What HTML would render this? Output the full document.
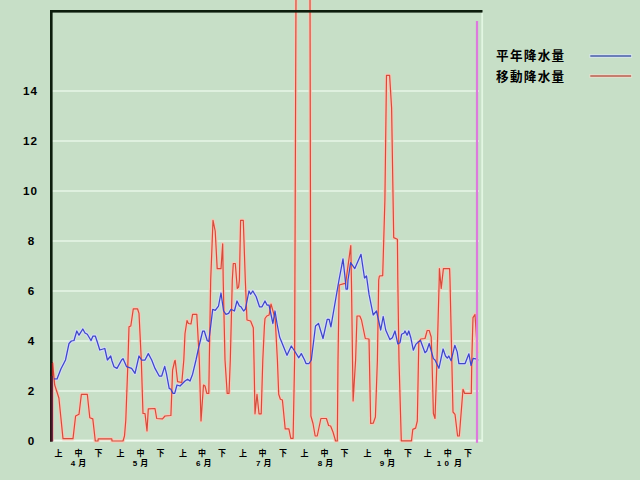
<!DOCTYPE html>
<html><head><meta charset="utf-8"><title>chart</title>
<style>
html,body{margin:0;padding:0;background:#c7dfc7;}
body{width:640px;height:480px;position:relative;overflow:hidden;font-family:"Liberation Sans",sans-serif;}
</style></head><body>
<svg width="640" height="480" viewBox="0 0 640 480" style="position:absolute;left:0;top:0;display:block">
<rect width="640" height="480" fill="#c7dfc7"/>
<rect x="52" y="390.1" width="427" height="1.8" fill="#e2f2e2"/>
<rect x="52" y="340.1" width="427" height="1.8" fill="#e2f2e2"/>
<rect x="52" y="290.1" width="427" height="1.8" fill="#e2f2e2"/>
<rect x="52" y="240.1" width="427" height="1.8" fill="#e2f2e2"/>
<rect x="52" y="190.1" width="427" height="1.8" fill="#e2f2e2"/>
<rect x="52" y="140.1" width="427" height="1.8" fill="#e2f2e2"/>
<rect x="52" y="90.1" width="427" height="1.8" fill="#e2f2e2"/>
<rect x="52" y="439.6" width="431" height="2.0" fill="#f0faf0"/>
<rect x="481.3" y="12" width="1.8" height="429.6" fill="#e2f6e2"/>
<polyline points="54.0,378.8 57.0,379.0 61.0,368.8 64.0,363.0 65.5,360.0 69.0,343.5 71.4,341.0 74.0,340.5 76.8,331.0 79.0,335.2 82.8,329.0 85.0,333.0 87.3,334.3 91.0,340.5 93.0,336.0 95.3,336.0 97.3,342.0 99.8,350.0 104.8,348.5 107.4,360.0 110.7,356.0 112.0,361.0 114.0,366.7 117.0,368.4 121.6,360.0 123.0,358.6 126.6,366.7 131.6,368.4 135.0,373.4 139.0,356.0 141.6,360.0 145.0,360.0 148.3,353.6 151.7,360.0 155.0,368.4 159.2,376.0 161.7,376.0 164.7,366.4 166.4,373.4 169.2,388.4 170.9,389.3 173.0,393.4 174.7,393.4 177.0,385.0 180.0,386.0 185.0,381.0 187.6,379.2 190.0,381.0 192.6,374.2 196.0,360.0 198.8,347.0 202.7,331.0 204.3,331.0 207.2,340.5 208.8,341.5 212.7,309.3 215.2,310.4 218.5,306.0 221.0,293.0 223.6,311.0 226.0,314.3 228.6,313.4 231.0,309.3 234.4,311.0 237.0,301.0 239.4,306.0 241.0,306.8 243.6,311.0 245.3,309.3 249.0,291.0 250.6,294.2 252.8,291.0 256.2,296.7 259.5,306.8 262.0,306.8 265.0,301.0 267.0,305.0 269.0,305.0 272.9,323.5 275.0,311.0 277.0,323.5 279.6,337.0 287.0,355.3 291.3,346.0 294.6,351.0 298.8,357.8 301.3,353.6 304.6,360.0 306.0,363.5 309.0,363.5 311.3,360.0 315.5,326.0 318.5,323.5 323.0,338.5 327.2,319.3 329.2,319.3 330.9,326.8 339.0,280.0 343.0,258.9 345.3,280.0 346.0,289.0 347.5,289.0 348.0,280.0 350.6,262.7 354.8,268.6 361.0,254.3 364.5,278.0 366.5,276.0 369.0,294.2 373.2,315.0 376.5,311.0 380.7,330.0 383.2,316.5 385.7,330.0 389.9,339.4 392.4,337.7 395.0,331.0 397.8,343.9 400.0,342.7 401.6,334.3 404.1,333.0 405.0,331.0 407.1,335.2 408.8,331.0 410.8,337.7 413.3,350.2 415.8,344.4 418.3,342.0 420.5,340.5 425.0,352.7 426.7,351.0 429.2,343.5 433.4,358.6 435.0,360.0 438.9,368.3 443.1,349.0 445.5,356.0 447.3,358.2 448.8,356.0 451.1,360.8 454.8,345.3 457.2,351.9 458.9,363.6 465.1,363.6 468.9,353.8 471.0,365.5 473.1,358.4 475.9,358.9 478.3,360.3" fill="none" stroke="#d6daff" stroke-opacity="0.8" stroke-width="3.5" stroke-linejoin="round"/>
<polyline points="52.0,441.0 52.6,362.8 54.7,385.0 58.9,398.0 63.0,438.6 73.0,438.6 75.6,416.0 79.0,414.3 81.4,394.3 87.3,394.3 89.8,417.7 92.8,418.9 95.3,441.0 98.0,441.0 98.2,438.8 111.8,438.8 112.0,441.0 123.0,441.0 124.5,436.0 125.8,420.0 128.0,360.0 129.0,326.8 130.8,326.0 133.3,308.8 137.5,308.8 139.0,313.4 141.3,360.0 143.0,413.5 145.0,413.5 147.0,431.0 148.3,408.8 155.0,408.5 156.7,418.5 162.5,418.8 165.0,416.0 170.9,415.5 172.6,370.0 174.7,361.0 175.2,360.5 177.6,381.7 181.8,382.5 183.8,360.0 185.0,333.5 187.0,320.5 188.4,323.5 191.0,323.8 192.6,314.3 196.8,314.3 199.3,360.0 201.0,421.0 203.5,385.0 205.0,386.0 206.8,393.4 208.8,393.4 209.3,360.0 210.7,280.0 213.0,220.4 215.2,231.0 217.2,268.6 221.0,268.6 222.7,243.8 223.2,280.0 225.0,360.0 227.2,393.4 229.0,393.4 230.3,360.0 232.3,280.0 233.3,263.5 235.3,263.5 236.6,280.0 237.3,288.4 238.6,287.0 239.4,280.0 240.6,220.4 243.3,220.4 245.3,280.0 247.0,320.0 250.6,321.0 253.3,327.7 254.0,360.0 255.0,413.8 257.0,394.3 259.0,413.8 261.2,413.8 262.8,360.0 264.4,326.0 265.0,318.5 266.8,316.0 269.1,315.0 271.0,304.0 273.3,312.2 275.2,318.8 277.4,360.0 278.7,394.3 280.4,399.3 282.4,400.0 285.2,428.9 288.9,428.9 290.8,438.3 293.1,438.3 294.6,360.0 296.0,-5.0 310.0,-5.0 310.8,360.0 310.9,416.0 313.0,423.5 315.2,436.0 317.2,436.0 320.9,418.5 326.4,418.5 328.6,425.5 330.6,426.0 333.0,432.0 335.6,441.0 337.3,441.0 338.0,360.0 339.2,285.0 344.0,283.7 345.6,283.4 350.8,245.6 351.5,285.0 353.1,401.0 355.6,360.0 357.0,316.0 359.8,316.0 361.5,320.0 365.3,338.5 369.0,339.0 370.7,423.5 373.2,423.2 375.4,417.0 377.4,360.0 378.7,280.0 379.4,276.0 382.7,275.6 384.9,200.0 386.5,75.3 389.6,75.3 391.6,108.0 393.7,237.6 397.4,239.3 397.8,280.0 399.0,360.0 401.3,440.8 411.5,440.8 412.8,429.4 415.6,428.1 417.3,421.0 418.8,342.0 420.8,339.0 425.0,338.5 427.2,330.5 429.2,330.5 431.2,337.0 432.0,360.0 433.4,413.5 435.0,418.5 437.0,360.0 439.2,280.0 439.4,268.6 441.2,288.4 443.4,268.6 449.6,268.6 450.0,280.0 451.8,360.0 453.0,412.0 455.0,414.3 457.6,436.0 459.3,436.0 463.0,389.3 464.7,393.4 471.3,393.4 471.8,360.0 473.0,317.6 475.0,314.5 477.5,353.0" fill="none" stroke="#fcc6b4" stroke-opacity="0.85" stroke-width="3.6" stroke-linejoin="round"/>
<polyline points="52.0,441.0 52.6,362.8 54.7,385.0 58.9,398.0 63.0,438.6 73.0,438.6 75.6,416.0 79.0,414.3 81.4,394.3 87.3,394.3 89.8,417.7 92.8,418.9 95.3,441.0 98.0,441.0 98.2,438.8 111.8,438.8 112.0,441.0 123.0,441.0 124.5,436.0 125.8,420.0 128.0,360.0 129.0,326.8 130.8,326.0 133.3,308.8 137.5,308.8 139.0,313.4 141.3,360.0 143.0,413.5 145.0,413.5 147.0,431.0 148.3,408.8 155.0,408.5 156.7,418.5 162.5,418.8 165.0,416.0 170.9,415.5 172.6,370.0 174.7,361.0 175.2,360.5 177.6,381.7 181.8,382.5 183.8,360.0 185.0,333.5 187.0,320.5 188.4,323.5 191.0,323.8 192.6,314.3 196.8,314.3 199.3,360.0 201.0,421.0 203.5,385.0 205.0,386.0 206.8,393.4 208.8,393.4 209.3,360.0 210.7,280.0 213.0,220.4 215.2,231.0 217.2,268.6 221.0,268.6 222.7,243.8 223.2,280.0 225.0,360.0 227.2,393.4 229.0,393.4 230.3,360.0 232.3,280.0 233.3,263.5 235.3,263.5 236.6,280.0 237.3,288.4 238.6,287.0 239.4,280.0 240.6,220.4 243.3,220.4 245.3,280.0 247.0,320.0 250.6,321.0 253.3,327.7 254.0,360.0 255.0,413.8 257.0,394.3 259.0,413.8 261.2,413.8 262.8,360.0 264.4,326.0 265.0,318.5 266.8,316.0 269.1,315.0 271.0,304.0 273.3,312.2 275.2,318.8 277.4,360.0 278.7,394.3 280.4,399.3 282.4,400.0 285.2,428.9 288.9,428.9 290.8,438.3 293.1,438.3 294.6,360.0 296.0,-5.0 310.0,-5.0 310.8,360.0 310.9,416.0 313.0,423.5 315.2,436.0 317.2,436.0 320.9,418.5 326.4,418.5 328.6,425.5 330.6,426.0 333.0,432.0 335.6,441.0 337.3,441.0 338.0,360.0 339.2,285.0 344.0,283.7 345.6,283.4 350.8,245.6 351.5,285.0 353.1,401.0 355.6,360.0 357.0,316.0 359.8,316.0 361.5,320.0 365.3,338.5 369.0,339.0 370.7,423.5 373.2,423.2 375.4,417.0 377.4,360.0 378.7,280.0 379.4,276.0 382.7,275.6 384.9,200.0 386.5,75.3 389.6,75.3 391.6,108.0 393.7,237.6 397.4,239.3 397.8,280.0 399.0,360.0 401.3,440.8 411.5,440.8 412.8,429.4 415.6,428.1 417.3,421.0 418.8,342.0 420.8,339.0 425.0,338.5 427.2,330.5 429.2,330.5 431.2,337.0 432.0,360.0 433.4,413.5 435.0,418.5 437.0,360.0 439.2,280.0 439.4,268.6 441.2,288.4 443.4,268.6 449.6,268.6 450.0,280.0 451.8,360.0 453.0,412.0 455.0,414.3 457.6,436.0 459.3,436.0 463.0,389.3 464.7,393.4 471.3,393.4 471.8,360.0 473.0,317.6 475.0,314.5 477.5,353.0" fill="none" stroke="#d44c3c" stroke-width="1.2" stroke-linejoin="round"/>
<polyline points="54.0,378.8 57.0,379.0 61.0,368.8 64.0,363.0 65.5,360.0 69.0,343.5 71.4,341.0 74.0,340.5 76.8,331.0 79.0,335.2 82.8,329.0 85.0,333.0 87.3,334.3 91.0,340.5 93.0,336.0 95.3,336.0 97.3,342.0 99.8,350.0 104.8,348.5 107.4,360.0 110.7,356.0 112.0,361.0 114.0,366.7 117.0,368.4 121.6,360.0 123.0,358.6 126.6,366.7 131.6,368.4 135.0,373.4 139.0,356.0 141.6,360.0 145.0,360.0 148.3,353.6 151.7,360.0 155.0,368.4 159.2,376.0 161.7,376.0 164.7,366.4 166.4,373.4 169.2,388.4 170.9,389.3 173.0,393.4 174.7,393.4 177.0,385.0 180.0,386.0 185.0,381.0 187.6,379.2 190.0,381.0 192.6,374.2 196.0,360.0 198.8,347.0 202.7,331.0 204.3,331.0 207.2,340.5 208.8,341.5 212.7,309.3 215.2,310.4 218.5,306.0 221.0,293.0 223.6,311.0 226.0,314.3 228.6,313.4 231.0,309.3 234.4,311.0 237.0,301.0 239.4,306.0 241.0,306.8 243.6,311.0 245.3,309.3 249.0,291.0 250.6,294.2 252.8,291.0 256.2,296.7 259.5,306.8 262.0,306.8 265.0,301.0 267.0,305.0 269.0,305.0 272.9,323.5 275.0,311.0 277.0,323.5 279.6,337.0 287.0,355.3 291.3,346.0 294.6,351.0 298.8,357.8 301.3,353.6 304.6,360.0 306.0,363.5 309.0,363.5 311.3,360.0 315.5,326.0 318.5,323.5 323.0,338.5 327.2,319.3 329.2,319.3 330.9,326.8 339.0,280.0 343.0,258.9 345.3,280.0 346.0,289.0 347.5,289.0 348.0,280.0 350.6,262.7 354.8,268.6 361.0,254.3 364.5,278.0 366.5,276.0 369.0,294.2 373.2,315.0 376.5,311.0 380.7,330.0 383.2,316.5 385.7,330.0 389.9,339.4 392.4,337.7 395.0,331.0 397.8,343.9 400.0,342.7 401.6,334.3 404.1,333.0 405.0,331.0 407.1,335.2 408.8,331.0 410.8,337.7 413.3,350.2 415.8,344.4 418.3,342.0 420.5,340.5 425.0,352.7 426.7,351.0 429.2,343.5 433.4,358.6 435.0,360.0 438.9,368.3 443.1,349.0 445.5,356.0 447.3,358.2 448.8,356.0 451.1,360.8 454.8,345.3 457.2,351.9 458.9,363.6 465.1,363.6 468.9,353.8 471.0,365.5 473.1,358.4 475.9,358.9 478.3,360.3" fill="none" stroke="#3e46c6" stroke-width="1.25" stroke-linejoin="round"/>
<rect x="475.9" y="21" width="2.2" height="421.8" fill="#dc7adc"/>
<rect x="50" y="10" width="432.5" height="2.6" fill="#0c1c0c"/>
<rect x="50" y="10" width="2.6" height="431.5" fill="#0c1c0c"/>
<rect x="50" y="376" width="1.7" height="65.5" fill="#2e1216"/>
<rect x="51.6" y="376" width="1.5" height="65.5" fill="#6a2840"/>
<rect x="51.8" y="363" width="1.3" height="13" fill="#b02828"/>
<rect x="589.3" y="54" width="42.8" height="4" fill="#d8e4f4" opacity="0.7"/>
<rect x="590.3" y="55" width="40.8" height="2" fill="#6a7eb8"/>
<rect x="589.3" y="74" width="42.8" height="4" fill="#f0dccc" opacity="0.7"/>
<rect x="590.3" y="75" width="40.8" height="2" fill="#c47e6e"/>
<g font-family='"Liberation Sans", "Noto Sans CJK JP", sans-serif' fill="#000" font-weight="bold">
<text x="496" y="60.3" font-size="12.6" letter-spacing="1.3">平年降水量</text>
<text x="496" y="80.6" font-size="12.6" letter-spacing="1.3">移動降水量</text>
<g font-size="8">
<text x="54.5" y="456.2">上</text>
<text x="74.5" y="456.2">中</text>
<text x="94.5" y="456.2">下</text>
<text x="116.4" y="456.2">上</text>
<text x="136.4" y="456.2">中</text>
<text x="156.4" y="456.2">下</text>
<text x="178.9" y="456.2">上</text>
<text x="198.1" y="456.2">中</text>
<text x="218.1" y="456.2">下</text>
<text x="238.9" y="456.2">上</text>
<text x="258.5" y="456.2">中</text>
<text x="278.9" y="456.2">下</text>
<text x="300.6" y="456.2">上</text>
<text x="320.6" y="456.2">中</text>
<text x="340.6" y="456.2">下</text>
<text x="363.5" y="456.2">上</text>
<text x="383.75" y="456.2">中</text>
<text x="403.9" y="456.2">下</text>
<text x="423.75" y="456.2">上</text>
<text x="443.75" y="456.2">中</text>
<text x="463.9" y="456.2">下</text>
<text x="70.7" y="466.3">4</text><text x="78.3" y="466.4">月</text>
<text x="132.7" y="466.3">5</text><text x="140.3" y="466.4">月</text>
<text x="195.95" y="466.3">6</text><text x="203.55" y="466.4">月</text>
<text x="255.95" y="466.3">7</text><text x="263.55" y="466.4">月</text>
<text x="317.7" y="466.3">8</text><text x="325.3" y="466.4">月</text>
<text x="379.7" y="466.3">9</text><text x="387.3" y="466.4">月</text>
<text x="436.8" y="466.3">1</text><text x="444.5" y="466.3">0</text><text x="454" y="466.4">月</text>
</g>
<g font-size="11.7">
<text x="27.7" y="445.2">0</text>
<text x="27.7" y="395.2">2</text>
<text x="27.7" y="345.2">4</text>
<text x="27.7" y="295.2">6</text>
<text x="27.7" y="245.2">8</text>
<text x="22.95" y="195.2" letter-spacing="1.1">10</text>
<text x="22.95" y="145.2" letter-spacing="1.1">12</text>
<text x="22.95" y="95.2" letter-spacing="1.1">14</text>
</g>
</g>
</svg>
</body></html>
